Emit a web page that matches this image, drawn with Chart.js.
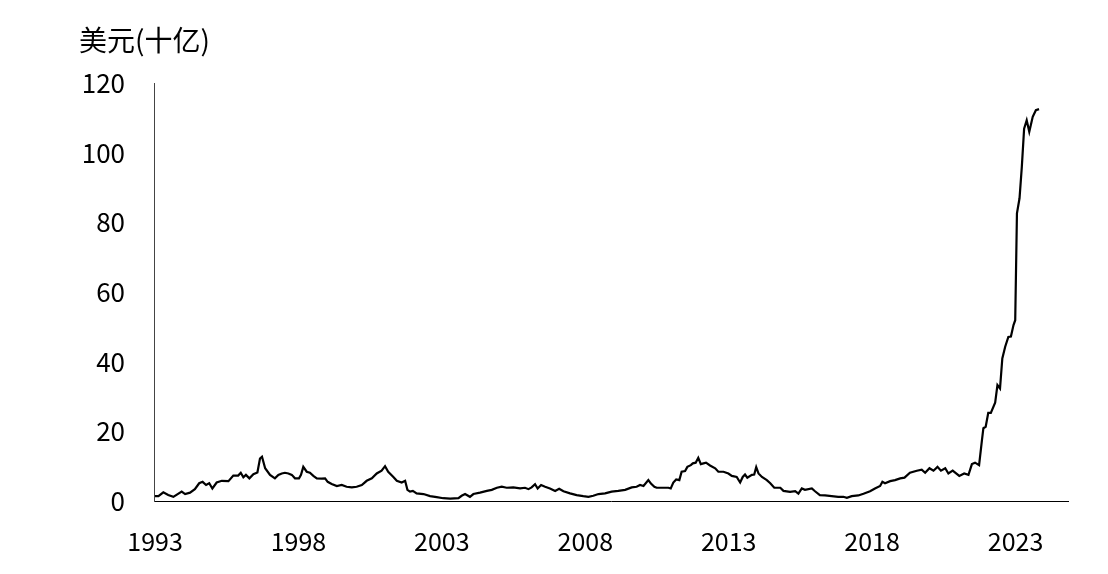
<!DOCTYPE html>
<html>
<head>
<meta charset="utf-8">
<script src="https://cdn.jsdelivr.net/npm/chart.js@4/dist/chart.umd.min.js"></script>
<style>
html,body{margin:0;padding:0;background:#fff;}
#wrap{width:1108px;height:574px;position:relative;}
</style>
</head>
<body>
<div id="wrap"><canvas id="c" width="1108" height="574"></canvas></div>
<script>
const unitLabel = "美元(十亿)";
const tickYears = [1993, 1998, 2003, 2008, 2013, 2018, 2023];
const yTicks = [0, 20, 40, 60, 80, 100, 120];

const years = [
1993.00,1993.12,1993.29,1993.46,1993.64,1993.93,1994.05,1994.22,1994.39,1994.54,
1994.66,1994.78,1994.89,1995.00,1995.15,1995.33,1995.56,1995.73,1995.90,1995.99,
1996.08,1996.17,1996.29,1996.43,1996.57,1996.66,1996.73,1996.84,1997.01,1997.18,
1997.30,1997.42,1997.53,1997.65,1997.77,1997.88,1998.02,1998.09,1998.17,1998.29,
1998.40,1998.52,1998.64,1998.81,1998.93,1999.02,1999.16,1999.34,1999.51,1999.68,
1999.86,2000.03,2000.21,2000.38,2000.56,2000.73,2000.90,2001.02,2001.13,2001.31,
2001.43,2001.60,2001.72,2001.80,2001.89,2001.99,2002.12,2002.36,2002.59,2002.82,
2003.05,2003.29,2003.58,2003.69,2003.81,2003.98,2004.10,2004.33,2004.57,2004.74,
2004.92,2005.09,2005.26,2005.49,2005.73,2005.90,2006.02,2006.13,2006.25,2006.34,
2006.46,2006.60,2006.77,2006.95,2007.09,2007.24,2007.47,2007.70,2007.93,2008.11,
2008.28,2008.46,2008.69,2008.92,2009.15,2009.39,2009.62,2009.79,2009.91,2010.03,
2010.20,2010.29,2010.41,2010.49,2010.72,2010.90,2010.98,2011.07,2011.17,2011.28,
2011.36,2011.48,2011.56,2011.68,2011.75,2011.85,2011.94,2012.03,2012.12,2012.21,
2012.35,2012.53,2012.64,2012.82,2012.99,2013.11,2013.28,2013.40,2013.49,2013.57,
2013.65,2013.81,2013.89,2013.96,2014.04,2014.16,2014.33,2014.45,2014.59,2014.80,
2014.91,2015.14,2015.32,2015.43,2015.55,2015.66,2015.90,2016.01,2016.18,2016.36,
2016.59,2016.82,2017.00,2017.12,2017.29,2017.52,2017.70,2017.93,2018.10,2018.28,
2018.36,2018.45,2018.63,2018.80,2018.98,2019.13,2019.32,2019.56,2019.73,2019.85,
2020.00,2020.14,2020.28,2020.40,2020.55,2020.66,2020.81,2021.04,2021.21,2021.36,
2021.48,2021.59,2021.73,2021.83,2021.88,2021.96,2022.05,2022.14,2022.29,2022.37,
2022.46,2022.54,2022.64,2022.75,2022.84,2022.93,2022.99,2023.05,2023.14,2023.22,
2023.30,2023.39,2023.48,2023.60,2023.71,2023.82
];
const values = [
1.4,1.4,2.5,1.7,1.2,2.7,2.0,2.4,3.4,5.1,
5.5,4.6,5.1,3.6,5.3,5.8,5.7,7.3,7.3,8.1,
6.8,7.5,6.5,7.7,8.2,12.2,12.7,9.4,7.5,6.5,
7.5,7.9,8.1,7.9,7.5,6.5,6.5,7.5,9.8,8.4,
8.1,7.2,6.5,6.4,6.5,5.5,4.9,4.3,4.6,4.1,
3.9,4.1,4.6,5.8,6.5,7.9,8.7,10.0,8.4,6.9,
5.8,5.3,5.8,3.2,2.7,2.9,2.2,2.0,1.4,1.1,
0.8,0.7,0.8,1.5,2.0,1.2,2.0,2.4,2.9,3.2,
3.8,4.1,3.8,3.9,3.6,3.8,3.4,3.9,4.8,3.6,
4.6,4.1,3.6,2.9,3.5,2.8,2.2,1.7,1.4,1.2,
1.5,2.0,2.2,2.7,2.9,3.2,3.9,4.1,4.6,4.3,
6.0,5.0,4.1,3.8,3.8,3.8,3.6,5.3,6.2,6.0,
8.4,8.6,9.8,10.3,10.8,11.0,12.4,10.6,10.8,11.0,
10.2,9.4,8.4,8.4,7.9,7.2,6.9,5.3,6.9,7.6,
6.7,7.5,7.6,9.7,7.9,6.9,6.0,5.1,3.8,3.8,
2.9,2.6,2.8,2.1,3.6,3.2,3.6,2.8,1.7,1.6,
1.4,1.2,1.2,0.9,1.4,1.6,2.1,2.8,3.6,4.3,
5.5,5.1,5.7,6.0,6.5,6.7,8.1,8.7,9.0,8.1,
9.4,8.7,9.8,8.7,9.4,7.9,8.7,7.2,7.9,7.5,
10.6,11.0,10.3,17.5,20.9,21.3,25.3,25.3,28.2,33.3,
32.3,40.9,44.3,47.1,47.2,50.5,51.9,82.6,86.9,95.9,
106.9,109.3,106.0,110.3,112.2,112.5
];

const points = years.map((y, i) => ({x: y, y: values[i]}));
const FONT = '"Noto Sans CJK SC", "Noto Sans", sans-serif';

const titlePlugin = {
  id: 'unitTitle',
  afterDraw(chart) {
    const ctx = chart.ctx;
    ctx.save();
    ctx.fillStyle = '#000';
    ctx.font = '28px ' + FONT;
    ctx.textBaseline = 'middle';
    ctx.textAlign = 'left';
    ctx.fillText(unitLabel, 79, 40);
    ctx.restore();
  }
};

new Chart(document.getElementById('c'), {
  type: 'line',
  data: {
    datasets: [{
      data: points,
      borderColor: '#000',
      borderWidth: 2.2,
      pointRadius: 0,
      tension: 0,
      fill: false
    }]
  },
  options: {
    responsive: false,
    animation: false,
    events: [],
    layout: {padding: {top: 83, right: 40, left: 0, bottom: 0}},
    plugins: {legend: {display: false}, tooltip: {enabled: false}},
    scales: {
      x: {
        type: 'linear',
        min: 1992.965,
        max: 2024.83,
        afterBuildTicks(scale) { scale.ticks = tickYears.map(v => ({value: v})); },
        afterFit(scale) { scale.height = 73; },
        grid: {display: false, drawTicks: false},
        border: {display: true, color: '#000', width: 1},
        ticks: {
          color: '#000',
          font: {family: FONT, size: 25},
          padding: 25,
          maxRotation: 0,
          autoSkip: false,
          callback: v => String(v)
        }
      },
      y: {
        min: 0,
        max: 120,
        afterBuildTicks(scale) { scale.ticks = yTicks.map(v => ({value: v})); },
        afterFit(scale) { scale.width = 154; },
        grid: {display: false, drawTicks: false},
        border: {display: true, color: '#444', width: 1},
        ticks: {
          color: '#000',
          font: {family: FONT, size: 26},
          padding: 29,
          callback: v => String(v)
        }
      }
    }
  },
  plugins: [titlePlugin]
});
</script>
</body>
</html>
